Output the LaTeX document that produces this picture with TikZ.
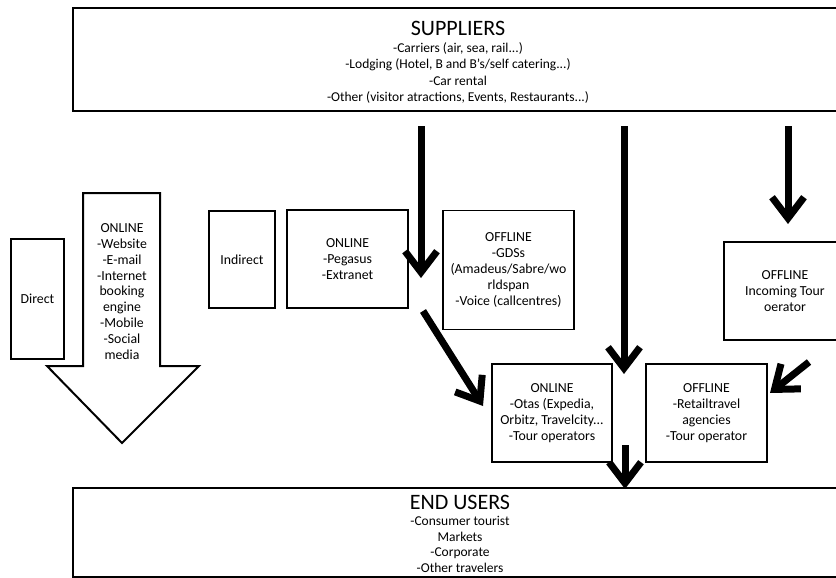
\documentclass[tikz,border=0pt]{standalone}
\usepackage{fontspec}
\setmainfont{Carlito}
\usetikzlibrary{arrows.meta}
\begin{document}
\begin{tikzpicture}[x=1pt,y=-1pt,
  box/.style={draw, line width=1.6pt, inner sep=0pt},
  txt/.style={align=center, font=\fontsize{13.8}{16}\selectfont, inner sep=0pt},
  bodytxt/.style={align=center, font=\fontsize{13.5}{16.3}\selectfont, inner sep=0pt},
  titletxt/.style={font=\fontsize{22}{24}\selectfont, inner sep=0pt},
  thickarrow/.style={line width=7pt, -{Straight Barb[length=21pt,width=32pt]}},
]
\useasboundingbox (0,0) rectangle (836,578);

% big boxes
\node[box, minimum width=770pt, minimum height=103pt] (sup) at (458,59.5) {};
\node[titletxt] (suptitle) at (458,28) {SUPPLIERS};
\node[bodytxt] (supbody) at (458,73) {-Carriers (air, sea, rail...)\\-Lodging (Hotel, B and B’s/self catering...)\\-Car rental\\-Other (visitor atractions, Events, Restaurants...)};

\node[box, minimum width=774pt, minimum height=89pt] (end) at (460,532.5) {};
\node[titletxt] (endtitle) at (460,502) {END USERS};
\node[bodytxt, font=\fontsize{13.5}{15.4}\selectfont] (endbody) at (460,544.5) {-Consumer tourist\\Markets\\-Corporate\\-Other travelers};

% direct
\node[box, minimum width=53pt, minimum height=120pt, txt] (direct) at (37.5,299) {Direct};
\draw[line width=2pt, line join=miter] (83,366) -- (83,193) -- (160,193) -- (160,366) -- (199,366) -- (122,443) -- (47,366) -- cycle;
\node[txt, font=\fontsize{13.8}{15.9}\selectfont] (directonline) at (122,291.5) {ONLINE\\-Website\\-E-mail\\-Internet\\booking\\engine\\-Mobile\\-Social\\media};

% indirect
\node[box, minimum width=66pt, minimum height=97pt, txt] (indirect) at (242,259.5) {Indirect};
\node[box, minimum width=121pt, minimum height=98pt, txt] (pegasus) at (347.5,259) {ONLINE\\-Pegasus\\-Extranet};
\node[box, minimum width=131pt, minimum height=119pt, txt] (gds) at (508.5,270) {OFFLINE\\-GDSs\\(Amadeus/Sabre/wo\\rldspan\\-Voice (callcentres)};
\node[box, minimum width=122pt, minimum height=98pt, txt] (incoming) at (785,291) {OFFLINE\\Incoming Tour\\oerator};
\node[box, minimum width=120pt, minimum height=98pt, txt] (otas) at (552,413) {ONLINE\\-Otas (Expedia,\\Orbitz, Travelcity...\\-Tour operators};
\node[box, minimum width=121pt, minimum height=98pt, txt] (retail) at (706.5,413) {OFFLINE\\-Retailtravel\\agencies\\-Tour operator};

% arrows
\coordinate (a1s) at (421,126); \coordinate (a1e) at (421,278);
\coordinate (a2s) at (423,311); \coordinate (a2e) at (483,406);
\coordinate (a3s) at (624,126); \coordinate (a3e) at (624,374);
\coordinate (a4s) at (788,126); \coordinate (a4e) at (788,224);
\coordinate (a5s) at (809,362); \coordinate (a5e) at (770,393);
\coordinate (a6s) at (625,445); \coordinate (a6e) at (625,489);
\draw[thickarrow] (a1s) -- (a1e);
\draw[thickarrow] (a2s) -- (a2e);
\draw[thickarrow] (a3s) -- (a3e);
\draw[thickarrow] (a4s) -- (a4e);
\draw[thickarrow] (a5s) -- (a5e);
\draw[thickarrow] (a6s) -- (a6e);
\end{tikzpicture}
\end{document}
